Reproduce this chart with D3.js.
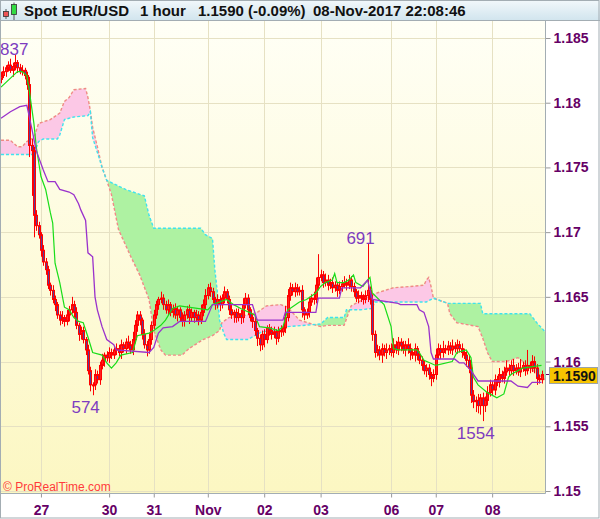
<!DOCTYPE html>
<html>
<head>
<meta charset="utf-8">
<style>
  body { margin: 0; background: #fff; }
  svg { display: block; font-family: "Liberation Sans", Arial, sans-serif; }
</style>
</head>
<body>
<script src="https://cdnjs.cloudflare.com/ajax/libs/d3/7.8.5/d3.min.js"></script>
<script>

var W = 600, H = 519;
var plot = { left: 0, right: 545, top: 20, bottom: 493 };

// hourly closes, oldest first (26-Oct .. 08-Nov 22:00)
var closes = [
  1.1821,1.1824,1.1827,1.1829,1.1825,1.1828,1.1831,1.1827,1.1824,1.1825,
  1.1821,1.1814,1.1767,1.1763,1.1713,1.1705,1.1698,1.1686,1.1677,1.1671,
  1.1659,1.1655,1.1648,1.1644,1.1636,1.1632,1.1634,1.1631,1.1636,1.1640,
  1.1644,1.1638,1.1628,1.1621,1.1624,1.1617,1.1609,1.1593,1.1582,1.1582,
  1.1590,1.1586,1.1597,1.1601,1.1605,1.1603,1.1607,1.1605,1.1609,1.1610,
  1.1607,1.1613,1.1610,1.1615,1.1613,1.1609,1.1617,1.1628,1.1636,1.1632,
  1.1621,1.1613,1.1609,1.1617,1.1628,1.1636,1.1644,1.1648,1.1649,1.1644,
  1.1640,1.1644,1.1638,1.1641,1.1636,1.1640,1.1634,1.1631,1.1636,1.1640,
  1.1634,1.1638,1.1634,1.1636,1.1632,1.1638,1.1644,1.1651,1.1657,1.1654,
  1.1648,1.1644,1.1648,1.1644,1.1649,1.1654,1.1648,1.1640,1.1636,1.1638,
  1.1634,1.1637,1.1634,1.1644,1.1649,1.1640,1.1634,1.1631,1.1624,1.1618,
  1.1613,1.1621,1.1617,1.1626,1.1624,1.1621,1.1623,1.1618,1.1624,1.1623,
  1.1626,1.1634,1.1651,1.1657,1.1654,1.1657,1.1654,1.1655,1.1640,1.1636,
  1.1638,1.1646,1.1649,1.1648,1.1659,1.1665,1.1667,1.1661,1.1663,1.1659,
  1.1661,1.1657,1.1659,1.1655,1.1658,1.1660,1.1661,1.1659,1.1663,1.1658,
  1.1654,1.1649,1.1651,1.1649,1.1648,1.1651,1.1655,1.1648,1.1621,1.1607,
  1.1609,1.1605,1.1610,1.1607,1.1609,1.1610,1.1607,1.1613,1.1609,1.1615,
  1.1612,1.1609,1.1613,1.1610,1.1607,1.1605,1.1610,1.1605,1.1601,1.1597,
  1.1593,1.1595,1.1590,1.1587,1.1590,1.1605,1.1610,1.1607,1.1610,1.1609,
  1.1612,1.1609,1.1612,1.1610,1.1613,1.1610,1.1607,1.1605,1.1601,1.1595,
  1.1574,1.1569,1.1570,1.1566,1.1572,1.1566,1.1570,1.1576,1.1582,1.1578,
  1.1586,1.1584,1.1590,1.1587,1.1592,1.1595,1.1593,1.1597,1.1593,1.1595,
  1.1592,1.1595,1.1597,1.1593,1.1597,1.1595,1.1600,1.1595,1.1587,1.1586,
  1.1590
];
var firstOpen = 1.1818;

// wick lengths in pips above / below the body
var wickUp = [
  3,4,2,3,5,3,6,2,3,4, 2,3,6,5,3,4,3,2,4,3, 3,2,4,3,2,3,5,2,4,3,
  6,3,4,2,3,3,2,4,3,2, 4,3,3,5,2,3,4,3,2,4, 3,4,2,3,5,3,6,4,3,3,
  2,4,3,5,3,4,3,2,5,3, 3,4,2,3,4,3,2,4,3,3, 4,3,2,4,3,6,4,5,3,4,
  3,2,4,3,3,4,2,3,4,2, 3,4,3,5,4,3,2,3,4,2, 3,3,4,2,3,3,4,2,3,4,
  3,9,5,4,3,4,3,3,4,2, 3,4,3,5,6,18,4,3,5,4, 3,4,3,2,4,3,5,3,4,3,
  3,2,4,3,3,4,36,3,4,3, 4,3,4,3,5,3,4,5,3,4, 3,4,3,5,4,3,4,2,3,3,
  4,3,3,2,4,5,4,3,6,3, 4,3,5,3,4,3,4,3,3,4, 3,4,3,5,3,4,3,5,4,3,
  4,3,5,3,4,6,3,4,5,3, 4,7,3,4,12,3,5,4,3,3, 3
];
var wickDn = [
  3,2,4,3,2,5,3,4,2,3, 3,4,9,35,17,4,3,5,3,4, 3,4,3,5,3,4,3,4,3,5,
  3,4,3,5,4,3,4,3,5,8, 4,3,4,3,5,3,4,3,3,4, 3,5,3,4,3,3,4,3,5,4,
  4,3,5,3,4,3,3,4,3,4, 3,4,3,4,3,5,3,4,4,3, 5,3,4,3,4,3,3,4,3,4,
  3,4,3,5,3,4,3,4,3,6, 4,3,5,4,3,4,3,5,4,6, 5,4,6,3,4,4,3,5,3,4,
  3,4,3,4,3,4,3,3,6,4, 3,4,3,4,3,4,3,4,3,4, 3,4,3,5,3,4,3,4,3,4,
  4,3,4,3,4,3,5,4,5,4, 3,4,6,3,5,4,3,4,3,4, 4,3,5,4,6,3,5,4,3,4,
  3,5,4,6,3,4,3,5,4,3, 4,3,4,3,4,3,4,3,5,4, 6,5,8,6,7,12,5,4,3,4,
  4,3,4,3,4,3,4,3,4,3, 3,4,3,4,3,4,3,4,5,3, 3
];

var dayLabels = ['27', '30', '31', 'Nov', '02', '03', '06', '07', '08'];
var dayIndex = [17, 46, 65, 88, 112, 136, 166, 185, 209];
var priceTicks = [1.15, 1.155, 1.16, 1.165, 1.17, 1.175, 1.18, 1.185];

// indicator lines as [candle index, price]
var tenkan = [
  [0,1.1812],[7,1.1824],[9,1.1824],[11,1.1821],[12,1.1810],[14,1.1784],[15,1.1766],
  [17,1.1743],[19,1.1733],[21,1.1715],[22,1.1707],[23,1.1676],[25,1.1661],[27,1.1642],
  [29,1.1640],[31,1.1634],[33,1.1631],[35,1.1630],[37,1.1619],[39,1.1607],[43,1.1605],
  [45,1.1599],[47,1.1595],[49,1.1599],[51,1.1605],[56,1.1607],[58,1.1620],[63,1.1622],
  [65,1.1624],[68,1.1628],[70,1.1632],[73,1.1641],[76,1.1643],[88,1.1640],[90,1.1644],
  [96,1.1648],[99,1.1644],[102,1.1641],[108,1.1636],[110,1.1627],[114,1.1626],[118,1.1624],
  [120,1.1627],[122,1.1640],[123,1.1641],[127,1.1646],[130,1.1648],[134,1.1653],[136,1.1658],
  [138,1.1661],[141,1.1663],[142,1.1668],[143,1.1661],[146,1.1661],[148,1.1663],[150,1.1667],
  [151,1.1661],[154,1.1658],[156,1.1663],[157,1.1665],[158,1.1653],[163,1.1644],[166,1.1627],
  [167,1.1610],[169,1.1609],[177,1.1609],[178,1.1607],[180,1.1601],[185,1.1597],[192,1.1600],
  [194,1.1607],[198,1.1609],[200,1.1603],[201,1.1588],[203,1.1582],[207,1.1576],[211,1.1572],
  [214,1.1575],[216,1.1588],[217,1.1590],[220,1.1593],[222,1.1595],[230,1.1597]
];
var kijun = [
  [0,1.1788],[4,1.1793],[8,1.1797],[11,1.1798],[13,1.1781],[15,1.1763],[18,1.1748],
  [20,1.1739],[23,1.1739],[25,1.1733],[29,1.1731],[31,1.1729],[33,1.1722],[34,1.1717],
  [36,1.1709],[37,1.1684],[39,1.1681],[40,1.1650],[41,1.1640],[43,1.1627],[45,1.1617],
  [48,1.1613],[49,1.1609],[63,1.1607],[65,1.1611],[67,1.1622],[69,1.1626],[73,1.1627],
  [76,1.1631],[87,1.1631],[90,1.1644],[107,1.1644],[109,1.1632],[120,1.1632],[121,1.1638],
  [134,1.1638],[135,1.1649],[144,1.1649],[145,1.1657],[153,1.1657],[156,1.1663],[158,1.1648],
  [169,1.1645],[170,1.1644],[177,1.1644],[178,1.1640],[180,1.1638],[182,1.1627],[183,1.1607],
  [184,1.1602],[193,1.1602],[195,1.1599],[197,1.1599],[200,1.1593],[203,1.1585],[217,1.1585],
  [220,1.1581],[224,1.1580],[226,1.1584],[230,1.1584]
];
var spanA = [
  [0,1.1760],[14,1.1760],[15,1.1765],[16,1.1770],[18,1.1772],[24,1.1772],[25,1.1775],
  [27,1.1787],[31,1.1789],[37,1.1790],[38,1.1793],[39,1.1773],[42,1.1756],[43,1.1750],
  [45,1.1740],[53,1.1733],[61,1.1728],[63,1.1713],[65,1.1703],[85,1.1703],[87,1.1698],
  [90,1.1695],[91,1.1671],[92,1.1655],[93,1.1632],[95,1.1621],[96,1.1617],[105,1.1617],
  [111,1.1623],[116,1.1624],[122,1.1627],[136,1.1629],[139,1.1634],[146,1.1634],[147,1.1640],
  [153,1.1640],[158,1.1641],[159,1.1646],[181,1.1646],[184,1.1649],[190,1.1645],[204,1.1645],
  [205,1.1637],[225,1.1637],[228,1.1630],[231.5,1.1623]
];
var spanB = [
  [0,1.1771],[4,1.1771],[7,1.1766],[9,1.1766],[11,1.1770],[14,1.1773],[16,1.1784],
  [21,1.1787],[25,1.1792],[27,1.1801],[29,1.1804],[31,1.1810],[36,1.1811],[37,1.1804],
  [38,1.1794],[39,1.1781],[41,1.1766],[43,1.1750],[45,1.1740],[47,1.1729],[50,1.1702],
  [55,1.1682],[59,1.1667],[63,1.1648],[65,1.1624],[68,1.1609],[70,1.1605],[77,1.1605],
  [80,1.1610],[86,1.1617],[90,1.1620],[93,1.1624],[94,1.1630],[97,1.1634],[105,1.1636],
  [109,1.1638],[113,1.1643],[119,1.1644],[122,1.1642],[124,1.1638],[127,1.1632],[136,1.1627],
  [139,1.1628],[146,1.1628],[149,1.1643],[154,1.1648],[160,1.1653],[167,1.1657],[174,1.1658],
  [180,1.1659],[181,1.1663],[182,1.1665],[183,1.1658],[184,1.1649],[190,1.1645],[191,1.1637],
  [194,1.1630],[203,1.1627],[205,1.1618],[207,1.1607],[209,1.1600],[215,1.1600],[220,1.1603],
  [222,1.1600],[225,1.1595],[231.5,1.1586]
];

// swing highs / lows marked on the chart
var extremeIdx = [6, 39, 156, 205];
var extremeText = ['837', '574', '691', '1554'];
var extremeHigh = [true, false, true, false];

var lastPrice = closes[closes.length - 1];

var candles = closes.map(function(c, i) {
  var o = i === 0 ? firstOpen : closes[i - 1];
  return {
    i: i, o: o, c: c,
    h: Math.max(o, c) + wickUp[i] * 0.0001,
    l: Math.min(o, c) - wickDn[i] * 0.0001
  };
});

var x = d3.scaleLinear().domain([0, 231]).range([1, 543.85]);
var y = d3.scaleLinear().domain([1.15, 1.185]).range([491, 38]);

var svg = d3.select('body').append('svg')
  .attr('width', W)
  .attr('height', H);

var defs = svg.append('defs');

var bgGrad = defs.append('linearGradient').attr('id', 'bg')
  .attr('x1', 0).attr('y1', 0).attr('x2', 0).attr('y2', 1);
bgGrad.append('stop').attr('offset', '0%').attr('stop-color', '#fffff6');
bgGrad.append('stop').attr('offset', '100%').attr('stop-color', '#fcf7c2');

var headGrad = defs.append('linearGradient').attr('id', 'head')
  .attr('x1', 0).attr('y1', 0).attr('x2', 0).attr('y2', 1);
headGrad.append('stop').attr('offset', '0%').attr('stop-color', '#f2f8fb');
headGrad.append('stop').attr('offset', '100%').attr('stop-color', '#d2e5ee');

defs.append('clipPath').attr('id', 'plotClip')
  .append('rect')
  .attr('x', plot.left).attr('y', plot.top)
  .attr('width', plot.right - plot.left).attr('height', plot.bottom - plot.top);

// header
svg.append('rect')
  .attr('x', 0).attr('y', 0).attr('width', W).attr('height', plot.top)
  .attr('fill', 'url(#head)');

var icon = svg.append('g').attr('stroke', '#333').attr('stroke-width', 0.8);
icon.append('line').attr('x1', 6).attr('x2', 6).attr('y1', 9).attr('y2', 19);
icon.append('rect').attr('x', 3.5).attr('y', 11.5).attr('width', 5).attr('height', 5).attr('fill', '#ee5555');
icon.append('line').attr('x1', 14).attr('x2', 14).attr('y1', 2.5).attr('y2', 20);
icon.append('rect').attr('x', 11.5).attr('y', 4.5).attr('width', 5).attr('height', 10).attr('fill', '#33dd44');

var headText = svg.append('g')
  .attr('font-size', 15).attr('font-weight', 'bold').attr('fill', '#111');
headText.append('text').attr('x', 24).attr('y', 16).text('Spot EUR/USD');
headText.append('text').attr('x', 140).attr('y', 16).text('1 hour');
headText.append('text').attr('x', 198).attr('y', 16).text('1.1590 (-0.09%)');
headText.append('text').attr('x', 313).attr('y', 16).text('08-Nov-2017 22:08:46');

// plot background and grid
svg.append('rect')
  .attr('x', plot.left).attr('y', plot.top)
  .attr('width', plot.right - plot.left).attr('height', plot.bottom - plot.top)
  .attr('fill', 'url(#bg)');

var grid = svg.append('g').attr('stroke', '#e6e1c3').attr('stroke-width', 1);
grid.selectAll('.v').data(dayIndex).join('line')
  .attr('x1', d => Math.round(x(d)) + 0.5).attr('x2', d => Math.round(x(d)) + 0.5)
  .attr('y1', plot.top).attr('y2', plot.bottom);
grid.selectAll('.h').data(priceTicks).join('line')
  .attr('x1', plot.left).attr('x2', plot.right)
  .attr('y1', d => Math.round(y(d)) + 0.5).attr('y2', d => Math.round(y(d)) + 0.5);

var chart = svg.append('g').attr('clip-path', 'url(#plotClip)');

// ichimoku cloud
var pA = spanA.map(d => [x(d[0]), y(d[1])]);
var pB = spanB.map(d => [x(d[0]), y(d[1])]);
var poly = d3.line()(pA.concat(pB.slice().reverse())) + 'Z';

defs.append('clipPath').attr('id', 'aboveB').append('path')
  .attr('d', d3.area().x(d => d[0]).y0(d => d[1]).y1(plot.top)(pB));
defs.append('clipPath').attr('id', 'belowB').append('path')
  .attr('d', d3.area().x(d => d[0]).y0(d => d[1]).y1(plot.bottom)(pB));

chart.append('g').attr('clip-path', 'url(#aboveB)')
  .append('path').attr('d', poly).attr('fill', '#aef2a2');
chart.append('g').attr('clip-path', 'url(#belowB)')
  .append('path').attr('d', poly).attr('fill', '#fcc8e6');

var line = d3.line().x(d => x(d[0])).y(d => y(d[1]));

chart.append('path').attr('d', line(spanB))
  .attr('fill', 'none').attr('stroke', '#f08a86').attr('stroke-width', 1.4)
  .attr('stroke-dasharray', '3,2');
chart.append('path').attr('d', line(spanA))
  .attr('fill', 'none').attr('stroke', '#3fe3ee').attr('stroke-width', 1.4)
  .attr('stroke-dasharray', '3,2');

// candles
var cg = chart.append('g');
cg.selectAll('line.wick').data(candles).join('line')
  .attr('class', 'wick')
  .attr('x1', d => Math.round(x(d.i)) + 0.5).attr('x2', d => Math.round(x(d.i)) + 0.5)
  .attr('y1', d => y(d.h)).attr('y2', d => y(d.l))
  .attr('stroke', '#ff0000').attr('stroke-width', 1);
cg.selectAll('rect.body').data(candles).join('rect')
  .attr('class', 'body')
  .attr('x', d => Math.round(x(d.i)) - 0.5)
  .attr('y', d => y(Math.max(d.o, d.c)))
  .attr('width', 2)
  .attr('height', d => Math.max(1, y(Math.min(d.o, d.c)) - y(Math.max(d.o, d.c))))
  .attr('fill', d => d.c < d.o ? '#5b3b95' : '#ff2020')
  .attr('stroke', '#ff0000').attr('stroke-width', 1);

// tenkan / kijun
chart.append('path').attr('d', line(tenkan))
  .attr('fill', 'none').attr('stroke', '#18dd18').attr('stroke-width', 1.2);
chart.append('path').attr('d', line(kijun))
  .attr('fill', 'none').attr('stroke', '#9a32cc').attr('stroke-width', 1.3);

// swing labels, kept inside the left edge
svg.append('g').selectAll('text').data(extremeIdx).join('text')
  .attr('x', (d, k) => x(d) - 7)
  .attr('y', (d, k) => extremeHigh[k] ? y(candles[d].h) : y(candles[d].l) + 18)
  .attr('text-anchor', 'middle')
  .attr('font-size', 17)
  .attr('fill', '#7d3cc0')
  .text((d, k) => extremeText[k])
  .each(function() {
    var b = this.getBBox();
    if (b.x < 0) d3.select(this).attr('x', +d3.select(this).attr('x') - b.x);
  });

svg.append('text')
  .attr('x', 3).attr('y', 491)
  .attr('font-size', 12).attr('fill', '#ff3b3b')
  .text('\u00a9 ProRealTime.com');

// right axis
svg.append('rect')
  .attr('x', plot.right).attr('y', plot.top)
  .attr('width', W - plot.right).attr('height', H - plot.top)
  .attr('fill', '#fff');
svg.append('rect')
  .attr('x', 0).attr('y', plot.bottom)
  .attr('width', plot.right).attr('height', H - plot.bottom)
  .attr('fill', '#fff');

var yAxis = svg.append('g')
  .attr('transform', 'translate(' + (plot.right + 0.5) + ',0)')
  .call(d3.axisRight(y).tickValues(priceTicks).tickSize(5).tickPadding(3)
    .tickFormat(d => String(+d.toFixed(3))));
yAxis.select('.domain').remove();
yAxis.selectAll('line').attr('stroke', '#999');
yAxis.selectAll('text')
  .attr('font-family', '"Liberation Sans", Arial, sans-serif')
  .attr('font-size', 14).attr('font-weight', 'bold').attr('fill', '#660066');

var xAxis = svg.append('g')
  .attr('transform', 'translate(0,' + (plot.bottom + 0.5) + ')')
  .call(d3.axisBottom(x).tickValues(dayIndex).tickSize(4)
    .tickFormat((d, k) => dayLabels[k]));
xAxis.select('.domain').remove();
xAxis.selectAll('line').attr('stroke', '#999');
xAxis.selectAll('text')
  .attr('y', 21).attr('dy', null)
  .attr('font-family', '"Liberation Sans", Arial, sans-serif')
  .attr('font-size', 14).attr('font-weight', 'bold').attr('fill', '#660066');

// last price tag
var ly = y(lastPrice);
svg.append('line')
  .attr('x1', plot.right).attr('x2', plot.right + 5)
  .attr('y1', ly).attr('y2', ly).attr('stroke', '#660066');
svg.append('rect')
  .attr('x', 549.5).attr('y', Math.round(ly) - 7.5)
  .attr('width', 48).attr('height', 16)
  .attr('fill', '#f7c400').attr('stroke', '#9aa3a8');
svg.append('text')
  .attr('x', 553).attr('y', Math.round(ly) + 5.5)
  .attr('font-size', 14).attr('font-weight', 'bold').attr('fill', '#111')
  .text(lastPrice.toFixed(4));

// frame
var frame = svg.append('g').attr('fill', 'none').attr('stroke', '#a3adb3');
frame.append('line').attr('x1', 0).attr('x2', W).attr('y1', plot.top + 0.5).attr('y2', plot.top + 0.5);
frame.append('line').attr('x1', plot.right + 0.5).attr('x2', plot.right + 0.5)
  .attr('y1', plot.top).attr('y2', plot.bottom + 0.5);
frame.append('line').attr('x1', 0).attr('x2', plot.right + 0.5)
  .attr('y1', plot.bottom + 0.5).attr('y2', plot.bottom + 0.5);
frame.append('rect').attr('x', 0.5).attr('y', 0.5).attr('width', W - 1.5).attr('height', H - 1.5);

</script>
</body>
</html>
